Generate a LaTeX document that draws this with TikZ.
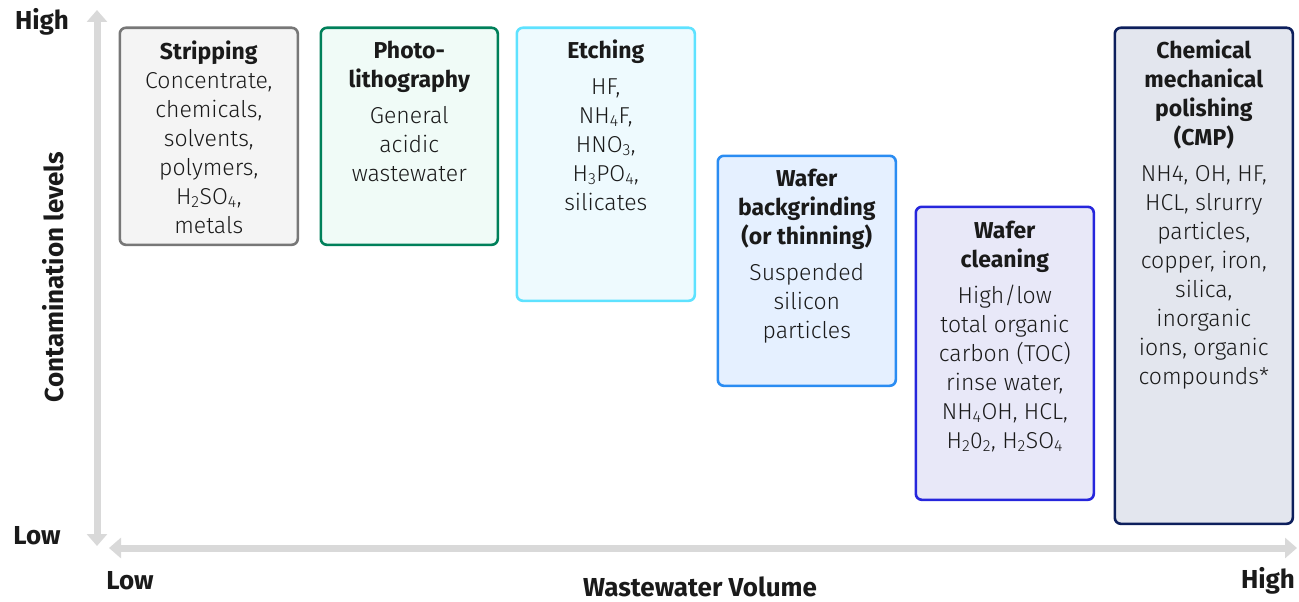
\documentclass[tikz,border=0pt]{standalone}
\usepackage{fontspec}
\IfFontExistsTF{Fira Sans Light}
  {\setmainfont{Fira Sans Light}[BoldFont={Fira Sans Bold}]}
  {\setmainfont{Fira Sans}}
\newfontfamily\axisfont{Fira Sans}
\usetikzlibrary{arrows.meta}

\definecolor{axisgray}{HTML}{D9D9D9}
\definecolor{inkdark}{HTML}{1A1A1A}
\definecolor{strokeA}{HTML}{777777}\definecolor{fillA}{HTML}{F4F4F4}
\definecolor{strokeB}{HTML}{00805A}\definecolor{fillB}{HTML}{F0FBF7}
\definecolor{strokeC}{HTML}{5EE2FF}\definecolor{fillC}{HTML}{EEFAFE}
\definecolor{strokeD}{HTML}{2A8CF2}\definecolor{fillD}{HTML}{E5F0FF}
\definecolor{strokeE}{HTML}{2626DC}\definecolor{fillE}{HTML}{E8E8F8}
\definecolor{strokeF}{HTML}{0D1F5C}\definecolor{fillF}{HTML}{E3E6EE}

\tikzset{
  procbox/.style 2 args={draw=#1, fill=#2, line width=2.6pt, rounded corners=6pt,
    rectangle, inner sep=0pt, anchor=north west},
  % anchor=base sits on the baseline of the last line
  proctext/.style={align=center, inner sep=0pt, anchor=base, text=inkdark,
    font=\fontsize{23}{29}\selectfont},
  axislabel/.style={inner sep=0pt, text=inkdark, font=\axisfont\bfseries\fontsize{26}{30}\selectfont},
  axisline/.style={draw=axisgray, line width=7pt,
    {Triangle[width=20pt,length=12pt]}-{Triangle[width=20pt,length=12pt]}},
}

\begin{document}
\begin{tikzpicture}[x=1pt,y=1pt]
\useasboundingbox (0,0) rectangle (1299,-602);

% axes
\coordinate (ytop) at (97,-10);
\coordinate (ybot) at (97,-546);
\coordinate (xleft) at (109,-548);
\coordinate (xright) at (1297,-548);
\draw[axisline] (ybot) -- (ytop);
\draw[axisline] (xleft) -- (xright);

\node[axislabel] (yhigh) at (42,-22) {High};
\node[axislabel] (ylow) at (37,-536) {Low};
\node[axislabel, rotate=90] (ytitle) at (53,-277) {Contamination levels};
\node[axislabel] (xlow) at (130,-581) {Low};
\node[axislabel] (xhigh) at (1268,-581) {High};
\node[axislabel] (xtitle) at (700,-587) {Wastewater Volume};

% process boxes
\node[procbox={strokeA}{fillA}, minimum width=178pt, minimum height=217pt] (strip) at (118.5,-26.5) {};
\node[procbox={strokeB}{fillB}, minimum width=177pt, minimum height=217pt] (photo) at (319.5,-26.5) {};
\node[procbox={strokeC}{fillC}, minimum width=178pt, minimum height=273pt] (etch) at (515.5,-26.5) {};
\node[procbox={strokeD}{fillD}, minimum width=178pt, minimum height=230pt] (grind) at (716.5,-154.5) {};
\node[procbox={strokeE}{fillE}, minimum width=178pt, minimum height=293pt] (clean) at (914.5,-205.5) {};
\node[procbox={strokeF}{fillF}, minimum width=178pt, minimum height=496pt] (cmp) at (1113.5,-26.5) {};

% box contents
\node[proctext] (striptext) at (strip.north |- 0,-233) {\textbf{Stripping}\\
  Concentrate,\\chemicals,\\solvents,\\polymers,\\H\textsubscript{2}SO\textsubscript{4},\\metals};
\node[proctext] (phototext) at (photo.north |- 0,-181) {\textbf{Photo-}\\\textbf{lithography}\\[7pt]
  General\\acidic\\wastewater};
\node[proctext] (etchtext) at (etch.north |- 0,-210) {\textbf{Etching}\\[7pt]
  HF,\\NH\textsubscript{4}F,\\HNO\textsubscript{3},\\H\textsubscript{3}PO\textsubscript{4},\\silicates};
\node[proctext] (grindtext) at (grind.north |- 0,-338) {\textbf{Wafer}\\\textbf{backgrinding}\\\textbf{(or thinning)}\\[7pt]
  Suspended\\silicon\\particles};
\node[proctext] (cleantext) at (clean.north |- 0,-448) {\textbf{Wafer}\\\textbf{cleaning}\\[7pt]
  High/low\\total organic\\carbon (TOC)\\rinse water,\\NH\textsubscript{4}OH, HCL,\\H\textsubscript{2}0\textsubscript{2}, H\textsubscript{2}SO\textsubscript{4}};
\node[proctext] (cmptext) at (cmp.north |- 0,-384) {\textbf{Chemical}\\\textbf{mechanical}\\\textbf{polishing}\\\textbf{(CMP)}\\[7pt]
  NH4, OH, HF,\\HCL, slrurry\\particles,\\copper, iron,\\silica,\\inorganic\\ions, organic\\compounds*};
\end{tikzpicture}
\end{document}
